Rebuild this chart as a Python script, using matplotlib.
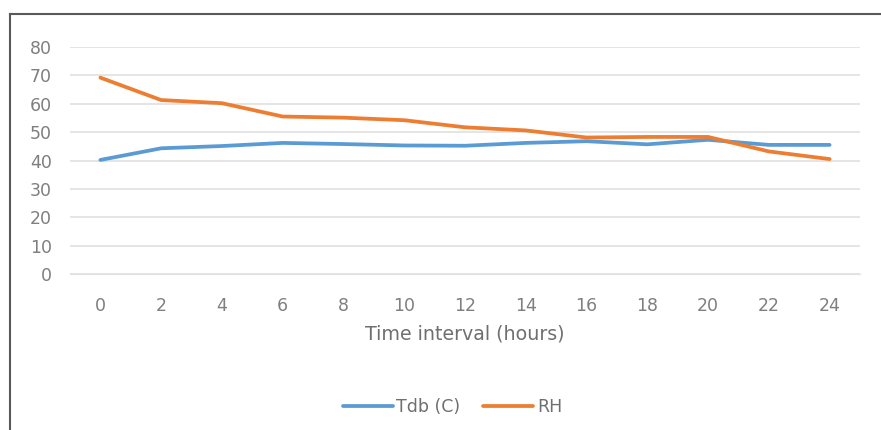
import matplotlib.pyplot as plt
from matplotlib.lines import Line2D
import numpy as np

# hourly readings
hours = [0, 2, 4, 6, 8, 10, 12, 14, 16, 18, 20, 22, 24]
tdb = [40.2, 44.3, 45.1, 46.2, 45.8, 45.3, 45.2, 46.2, 46.8, 45.7, 47.3, 45.5, 45.5]
rh = [69.2, 61.3, 60.2, 55.5, 55.1, 54.2, 51.7, 50.6, 48.1, 48.3, 48.3, 43.2, 40.5]
yticks = [0, 10, 20, 30, 40, 50, 60, 70, 80]

txt = '#7F7F7F'
plt.rcParams['font.family'] = ['DejaVu Sans']

fig = plt.figure(figsize=(8.81, 4.30), dpi=100)
ax = fig.add_axes([70 / 881, 1 - 274 / 430, 790 / 881, 227 / 430])

x = np.arange(len(hours))
ax.plot(x, tdb, color='#5B9BD5', lw=2.7, label='Tdb (C)', solid_capstyle='round')
ax.plot(x, rh, color='#ED7D31', lw=2.7, label='RH', solid_capstyle='round')

ax.set_xlim(-0.5, len(hours) - 0.5)
ax.set_ylim(0, 80)
ax.set_xticks(x)
ax.set_xticklabels([str(h) for h in hours])
ax.set_yticks(yticks)
ax.tick_params(length=0, labelsize=12.5, colors=txt)
ax.tick_params(axis='x', pad=16.5)
ax.tick_params(axis='y', pad=13)
ax.yaxis.grid(True, color='#E0E0E0', lw=1.2)
ax.set_axisbelow(True)
for s in ['top', 'right', 'left']:
    ax.spines[s].set_visible(False)
ax.spines['bottom'].set_color('#E0E0E0')

ax.set_xlabel('Time interval (hours)', fontsize=13.7, color='#6F6F6F', labelpad=7)

leg = ax.legend(loc='center', bbox_to_anchor=(0.484, -0.586), ncol=2,
                frameon=False, fontsize=12.5, handlelength=2.9,
                handletextpad=0.2, columnspacing=1.3)
for t in leg.get_texts():
    t.set_color('#6F6F6F')

# outer frame (top and left edges visible)
fig.add_artist(Line2D([9.5 / 881, 1], [1 - 14 / 430, 1 - 14 / 430],
                      color='#595959', lw=1.5))
fig.add_artist(Line2D([9.5 / 881, 9.5 / 881], [0, 1 - 14 / 430],
                      color='#595959', lw=1.5))

plt.savefig('out.png', dpi=100)
